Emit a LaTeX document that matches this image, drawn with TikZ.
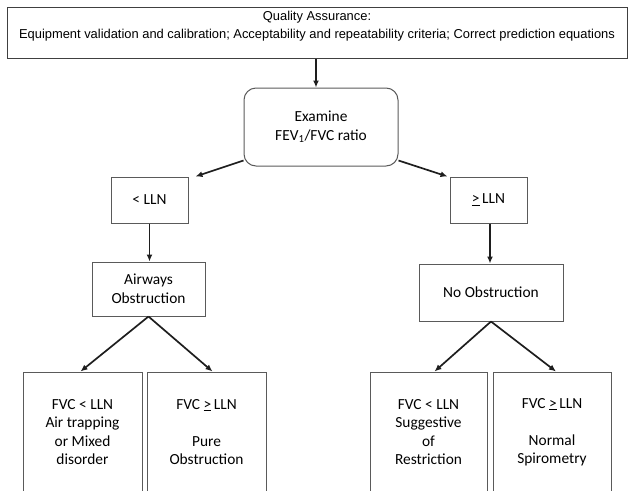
\documentclass[tikz,border=0pt]{standalone}
\usepackage{fontspec}
\setmainfont{Carlito}
\newfontfamily\arialfont{Liberation Sans}
\usetikzlibrary{arrows.meta}
\definecolor{boxgray}{HTML}{5A5A5A}
\definecolor{arrowblack}{HTML}{1E1E1E}

\begin{document}
\begin{tikzpicture}[x=1pt, y=-1pt,
  box/.style={draw=boxgray, line width=1pt, align=center, inner sep=0pt,
    font=\fontsize{15.4}{18.5}\selectfont},
  arr/.style={draw=arrowblack, line width=1.7pt, -{Latex[length=7pt,width=6pt]}}]
  \clip (0,0) rectangle (628,490);

  \node[box, draw=black!75, minimum width=620pt, minimum height=51pt] (qa) at (317,33) {};
  \node[align=center, inner sep=0pt, font=\arialfont\fontsize{12.9}{17.5}\selectfont] (qatext)
    at ([yshift=7pt]qa.center)
    {Quality Assurance:\\Equipment validation and calibration; Acceptability and repeatability criteria; Correct prediction equations};
  \node[box, rounded corners=12pt, minimum width=154pt, minimum height=78pt] (exam) at (321,127)
    {Examine\\FEV\textsubscript{1}/FVC ratio};

  \node[box, minimum width=77pt, minimum height=46pt] (lt) at (149.5,200) {< LLN};
  \node[box, minimum width=77pt, minimum height=46pt] (ge) at (488.5,200) {\underline{>}\,LLN};

  \node[box, minimum width=113pt, minimum height=54pt] (aw) at (148.5,289) {Airways\\Obstruction};
  \node[box, minimum width=144pt, minimum height=57pt] (noobs) at (491,292.5) {No Obstruction};

  \node[box, minimum width=119pt, minimum height=120pt] (mixed) at (82.5,432)
    {FVC < LLN\\Air trapping\\or Mixed\\disorder};
  \node[box, minimum width=119pt, minimum height=120pt] (pure) at (206.5,432)
    {FVC \underline{>}\,LLN\\\strut\\Pure\\Obstruction};
  \node[box, minimum width=117pt, minimum height=120pt] (restr) at (428.5,432)
    {FVC < LLN\\Suggestive\\of\\Restriction};
  \node[box, minimum width=118pt, minimum height=120pt] (normal) at (552,432)
    {FVC \underline{>}\,LLN\\\strut\\Normal\\Spirometry};

  \draw[arr] ([xshift=-1pt]qa.south) -- ([xshift=-1pt]qa.south |- exam.north);
  \draw[arr] ([yshift=6pt]exam.south west) -- ([xshift=7pt]lt.north east);
  \draw[arr] ([yshift=6pt]exam.south east) -- ([xshift=-2pt]ge.north west);
  \draw[arr] (lt.south) -- (lt.south |- aw.north);
  \draw[arr] ([xshift=1.5pt]ge.south) -- ([xshift=1.5pt]ge.south |- noobs.north);
  \draw[arr] (aw.south) -- ([xshift=-2pt]mixed.north);
  \draw[arr] (aw.south) -- ([xshift=6pt]pure.north);
  \draw[arr] (noobs.south) -- ([xshift=6pt]restr.north);
  \draw[arr] (noobs.south) -- ([xshift=4pt]normal.north);
\end{tikzpicture}
\end{document}
